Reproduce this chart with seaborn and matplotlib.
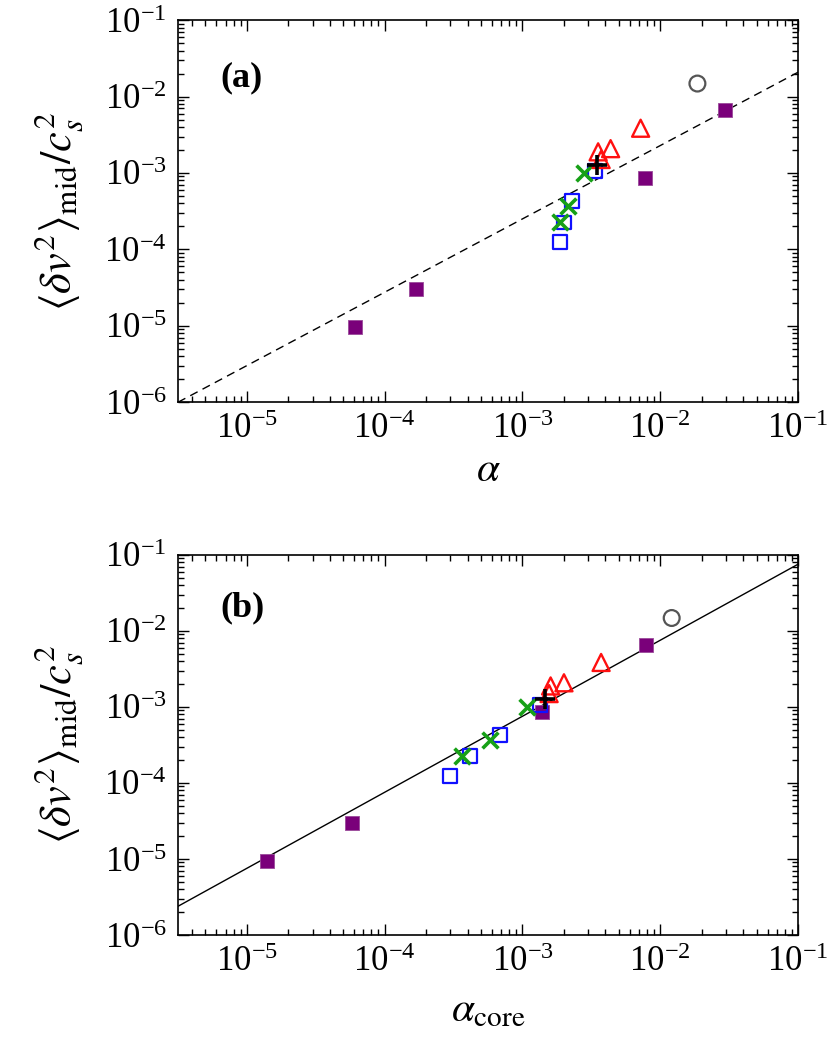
import numpy as np
import pandas as pd
import matplotlib
matplotlib.use("Agg")
import matplotlib.pyplot as plt
import seaborn as sns
from matplotlib.ticker import LogLocator, NullFormatter

# ---------------- data ----------------
# purple filled squares
purple_alpha = [6.1e-5, 1.7e-4, 7.7e-3, 2.95e-2]
purple_alpha_core = [1.4e-5, 5.8e-5, 1.39e-3, 7.85e-3]
purple_dv2 = [9.5e-6, 3.0e-5, 8.7e-4, 6.6e-3]

# blue open squares
blue_alpha = [1.88e-3, 1.99e-3, 2.30e-3, 3.34e-3]
blue_alpha_core = [2.99e-4, 4.19e-4, 6.84e-4, 1.34e-3]
blue_dv2 = [1.24e-4, 2.25e-4, 4.25e-4, 1.05e-3]

# green crosses
green_alpha = [1.88e-3, 2.13e-3, 2.78e-3]
green_alpha_core = [3.66e-4, 5.85e-4, 1.07e-3]
green_dv2 = [2.29e-4, 3.7e-4, 1.0e-3]

# red open triangles
red_alpha = [3.54e-3, 3.72e-3, 4.36e-3, 7.2e-3]
red_alpha_core = [1.60e-3, 1.56e-3, 2.0e-3, 3.72e-3]
red_dv2 = [1.89e-3, 1.5e-3, 2.08e-3, 3.85e-3]

# black plus
black_alpha = [3.48e-3]
black_alpha_core = [1.45e-3]
black_dv2 = [1.28e-3]

# gray open circle
gray_alpha = [1.86e-2]
gray_alpha_core = [1.21e-2]
gray_dv2 = [1.48e-2]

# fitted power laws  y = coef * x**slope
fit_a_coef, fit_a_slope = 0.19, 0.96
fit_b_coef, fit_b_slope = 0.755, 1.0

x_limits = (10 ** -5.5, 1e-1)
y_limits = (1e-6, 1e-1)
panel_labels = ["(a)", "(b)"]
x_labels = [r"$\alpha$", r"$\alpha_{\rm core}$"]
y_label = r"$\langle \delta v^2\rangle_{\rm mid}/c_s^2$"

# ---------------- style ----------------
sns.set_style("ticks")
plt.rcParams["font.family"] = ["Liberation Serif", "DejaVu Serif"]
plt.rcParams["mathtext.fontset"] = "stix"
plt.rcParams["axes.linewidth"] = 1.2
for key in ["text.color", "axes.labelcolor", "xtick.color", "ytick.color", "axes.edgecolor"]:
    plt.rcParams[key] = "black"

fig = plt.figure(figsize=(8.29, 10.5), dpi=100)
ax1 = fig.add_axes([0.2147, 0.617, 0.748, 0.3638])
ax2 = fig.add_axes([0.2147, 0.1095, 0.748, 0.362])

series = [
    ("purple", "s", dict(color="#7a007a", edgecolor="#9a4a9a", linewidth=0.6, s=110)),
    ("blue", "s", dict(facecolor="none", edgecolor="#1010ff", linewidth=1.6, s=100)),
    ("green", "x", dict(color="#17a017", linewidth=2.6, s=130)),
    ("red", "^", dict(facecolor="none", edgecolor="#ff1010", linewidth=1.7, s=150)),
    ("black", "+", dict(color="black", linewidth=2.6, s=220)),
    ("gray", "o", dict(facecolor="none", edgecolor="#555555", linewidth=1.6, s=130)),
]
data = {
    "purple": (purple_alpha, purple_alpha_core, purple_dv2),
    "blue": (blue_alpha, blue_alpha_core, blue_dv2),
    "green": (green_alpha, green_alpha_core, green_dv2),
    "red": (red_alpha, red_alpha_core, red_dv2),
    "black": (black_alpha, black_alpha_core, black_dv2),
    "gray": (gray_alpha, gray_alpha_core, gray_dv2),
}

xs_line = np.logspace(np.log10(x_limits[0]), np.log10(x_limits[1]), 200)

for i, ax in enumerate([ax1, ax2]):
    if i == 0:
        line_df = pd.DataFrame({"x": xs_line, "y": fit_a_coef * xs_line ** fit_a_slope})
        sns.lineplot(data=line_df, x="x", y="y", ax=ax, color="black", linewidth=1.0,
                     linestyle=(0, (6, 4)), zorder=1)
    else:
        line_df = pd.DataFrame({"x": xs_line, "y": fit_b_coef * xs_line ** fit_b_slope})
        sns.lineplot(data=line_df, x="x", y="y", ax=ax, color="black", linewidth=1.0, zorder=1)

    for name, marker, kw in series:
        a, ac, dv = data[name]
        df = pd.DataFrame({"x": a if i == 0 else ac, "y": dv})
        sns.scatterplot(data=df, x="x", y="y", ax=ax, marker=marker, zorder=3, **kw)

    ax.set_xscale("log")
    ax.set_yscale("log")
    ax.set_xlim(*x_limits)
    ax.set_ylim(*y_limits)
    ax.xaxis.set_major_locator(LogLocator(base=10, numticks=10))
    ax.yaxis.set_major_locator(LogLocator(base=10, numticks=10))
    ax.xaxis.set_minor_locator(LogLocator(base=10, subs=np.arange(2, 10), numticks=20))
    ax.yaxis.set_minor_locator(LogLocator(base=10, subs=np.arange(2, 10), numticks=20))
    ax.xaxis.set_minor_formatter(NullFormatter())
    ax.yaxis.set_minor_formatter(NullFormatter())
    ax.tick_params(which="both", direction="in", top=True, right=True, labelsize=25)
    ax.tick_params(which="major", length=8, width=1.0, pad=8)
    ax.tick_params(which="minor", length=4, width=1.0)
    for sp in ax.spines.values():
        sp.set_visible(True)
        sp.set_linewidth(1.2)

    ax.set_xlabel(x_labels[i], fontsize=30, labelpad=4 if i == 0 else 9)
    ax.set_ylabel(y_label, fontsize=32, labelpad=14)
    ax.text(0.068, 0.85 if i == 0 else 0.86, panel_labels[i], transform=ax.transAxes,
            fontsize=26, fontweight="bold", va="center", ha="left")

fig.savefig("out.png", dpi=100)
